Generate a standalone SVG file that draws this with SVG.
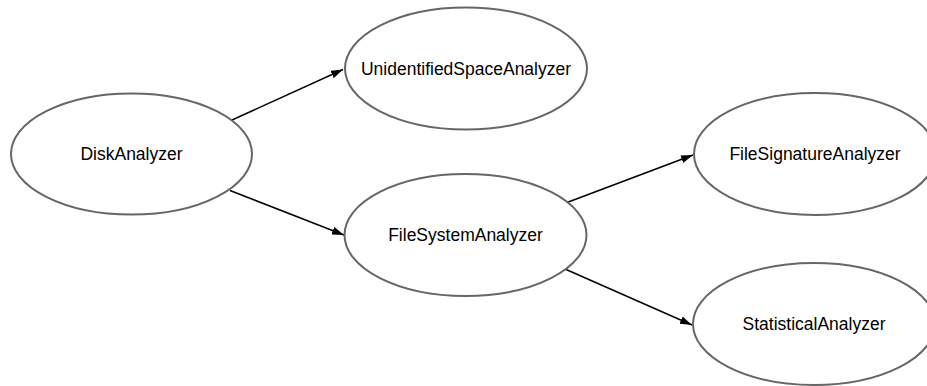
<svg xmlns="http://www.w3.org/2000/svg" width="927" height="386" viewBox="0 0 927 386">
<style>
.node ellipse{fill:#fff;stroke:#666;stroke-width:2}
.node text{font-family:"Liberation Sans",Arial,sans-serif;font-size:17.5px;fill:#000;text-anchor:middle}
.edge{stroke:#000;stroke-width:1.5;fill:none;marker-end:url(#arr)}
</style>
<defs>
<marker id="arr" viewBox="0 0 12 8" refX="12" refY="4" markerWidth="12" markerHeight="8" markerUnits="userSpaceOnUse" orient="auto">
<path d="M0,0 L12,4 L0,8 Z" fill="#000"/>
</marker>
</defs>
<rect width="927" height="386" fill="#fff"/>
<g id="connectors">
<line class="edge" x1="232" y1="120" x2="343" y2="69.5"/>
<line class="edge" x1="230" y1="190.5" x2="344" y2="235"/>
<line class="edge" x1="567" y1="202.5" x2="693" y2="155"/>
<line class="edge" x1="565" y1="269" x2="692" y2="325"/>
</g>
<g id="DiskAnalyzer" class="node"><ellipse cx="131.5" cy="154" rx="120.5" ry="60.5"/><text x="131.5" y="159.5">DiskAnalyzer</text></g>
<g id="UnidentifiedSpaceAnalyzer" class="node"><ellipse cx="466" cy="68.5" rx="121" ry="61"/><text x="466" y="74.5">UnidentifiedSpaceAnalyzer</text></g>
<g id="FileSystemAnalyzer" class="node"><ellipse cx="465.5" cy="235" rx="121" ry="61"/><text x="465.5" y="240.5">FileSystemAnalyzer</text></g>
<g id="FileSignatureAnalyzer" class="node"><ellipse cx="815" cy="154" rx="121" ry="61"/><text x="815" y="159.5">FileSignatureAnalyzer</text></g>
<g id="StatisticalAnalyzer" class="node"><ellipse cx="814" cy="324" rx="121" ry="61"/><text x="814" y="329.5">StatisticalAnalyzer</text></g>
</svg>
